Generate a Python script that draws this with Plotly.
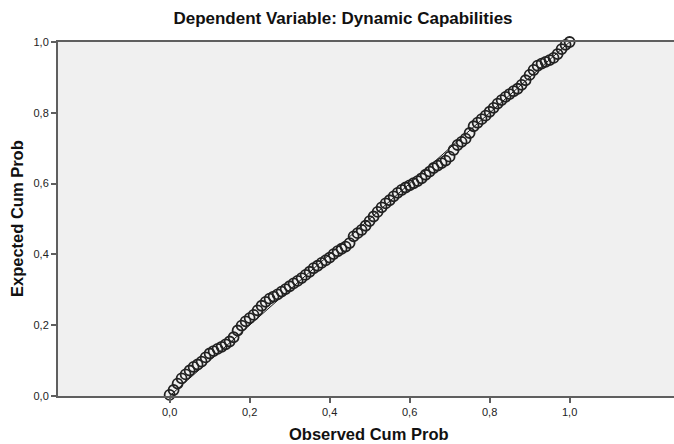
import plotly.graph_objects as go

# Observed cumulative probability (x) and expected cumulative probability (y)
observed = [0.00, 0.01, 0.02, 0.03, 0.04, 0.05, 0.06, 0.07, 0.08, 0.09,
            0.10, 0.11, 0.12, 0.13, 0.14, 0.15, 0.16, 0.17, 0.18, 0.19,
            0.20, 0.21, 0.22, 0.23, 0.24, 0.25, 0.26, 0.27, 0.28, 0.29,
            0.30, 0.31, 0.32, 0.33, 0.34, 0.35, 0.36, 0.37, 0.38, 0.39,
            0.40, 0.41, 0.42, 0.43, 0.44, 0.45, 0.46, 0.47, 0.48, 0.49,
            0.50, 0.51, 0.52, 0.53, 0.54, 0.55, 0.56, 0.57, 0.58, 0.59,
            0.60, 0.61, 0.62, 0.63, 0.64, 0.65, 0.66, 0.67, 0.68, 0.69,
            0.70, 0.71, 0.72, 0.73, 0.74, 0.75, 0.76, 0.77, 0.78, 0.79,
            0.80, 0.81, 0.82, 0.83, 0.84, 0.85, 0.86, 0.87, 0.88, 0.89,
            0.90, 0.91, 0.92, 0.93, 0.94, 0.95, 0.96, 0.97, 0.98, 0.99, 1.00]
expected = [0.003, 0.017, 0.035, 0.050, 0.061, 0.072, 0.082, 0.089, 0.097, 0.109,
            0.120, 0.127, 0.133, 0.139, 0.146, 0.154, 0.166, 0.185, 0.199, 0.211,
            0.220, 0.229, 0.242, 0.255, 0.266, 0.275, 0.281, 0.287, 0.295, 0.302,
            0.310, 0.318, 0.325, 0.333, 0.342, 0.351, 0.361, 0.368, 0.376, 0.383,
            0.391, 0.401, 0.409, 0.416, 0.422, 0.432, 0.451, 0.460, 0.469, 0.481,
            0.494, 0.507, 0.520, 0.533, 0.544, 0.553, 0.564, 0.574, 0.582, 0.589,
            0.595, 0.601, 0.607, 0.615, 0.625, 0.634, 0.644, 0.651, 0.658, 0.665,
            0.676, 0.695, 0.709, 0.718, 0.727, 0.743, 0.762, 0.772, 0.782, 0.792,
            0.803, 0.814, 0.826, 0.836, 0.845, 0.853, 0.861, 0.868, 0.879, 0.892,
            0.907, 0.921, 0.933, 0.939, 0.944, 0.949, 0.955, 0.966, 0.980, 0.992, 1.000]

ref_line = [0.0, 1.0]
tick_vals = [0.0, 0.2, 0.4, 0.6, 0.8, 1.0]
tick_text = ["0,0", "0,2", "0,4", "0,6", "0,8", "1,0"]

title_text = "Dependent Variable: Dynamic Capabilities"
x_title = "Observed Cum Prob"
y_title = "Expected Cum Prob"

FONT = "Liberation Sans, Arial, sans-serif"
AXIS = "#5f5f5f"

fig = go.Figure()
fig.add_trace(go.Scatter(x=ref_line, y=ref_line, mode="lines",
                         line=dict(color="#1a1a1a", width=1),
                         hoverinfo="skip", showlegend=False, cliponaxis=False))
fig.add_trace(go.Scatter(x=observed, y=expected, mode="markers",
                         marker=dict(symbol="circle-open", size=10,
                                     color="#222222", line=dict(width=1.8)),
                         showlegend=False, cliponaxis=False))

fig.update_layout(
    width=674, height=444,
    margin=dict(l=58, r=0, t=42, b=48),
    paper_bgcolor="white",
    plot_bgcolor="#f0f0f0",
    font=dict(family=FONT, color="#222222", size=11),
    title=dict(text="<b>" + title_text + "</b>", x=343 / 674, xanchor="center",
               y=1 - 18 / 444, yanchor="middle", font=dict(size=17, color="#111111")),
    xaxis=dict(range=[-0.279, 1.261], tickvals=tick_vals, ticktext=tick_text,
               showgrid=False, zeroline=False, showline=True, mirror=True,
               linecolor=AXIS, linewidth=2, ticks="outside", ticklen=5,
               tickwidth=1.5, tickcolor=AXIS, tickfont=dict(size=11, color="#222222")),
    yaxis=dict(range=[0, 1], tickvals=tick_vals, ticktext=tick_text,
               showgrid=False, zeroline=False, showline=True, mirror=False,
               linecolor=AXIS, linewidth=2, ticks="outside", ticklen=5,
               tickwidth=1.5, tickcolor=AXIS, tickfont=dict(size=11, color="#222222")),
    annotations=[
        dict(text="<b>" + x_title + "</b>", xref="paper", yref="paper",
             x=(369 - 58) / 616, y=-(434 - 396) / 354, xanchor="center", yanchor="middle",
             showarrow=False, font=dict(size=16.5, color="#111111")),
        dict(text="<b>" + y_title + "</b>", xref="paper", yref="paper",
             x=-(58 - 17) / 616, y=0.5, xanchor="center", yanchor="middle",
             textangle=-90, showarrow=False, font=dict(size=16.5, color="#111111")),
    ],
)

fig.write_html("out.html", config={"displayModeBar": False},
               post_script="document.body.style.margin='0';document.body.style.overflow='hidden';")
